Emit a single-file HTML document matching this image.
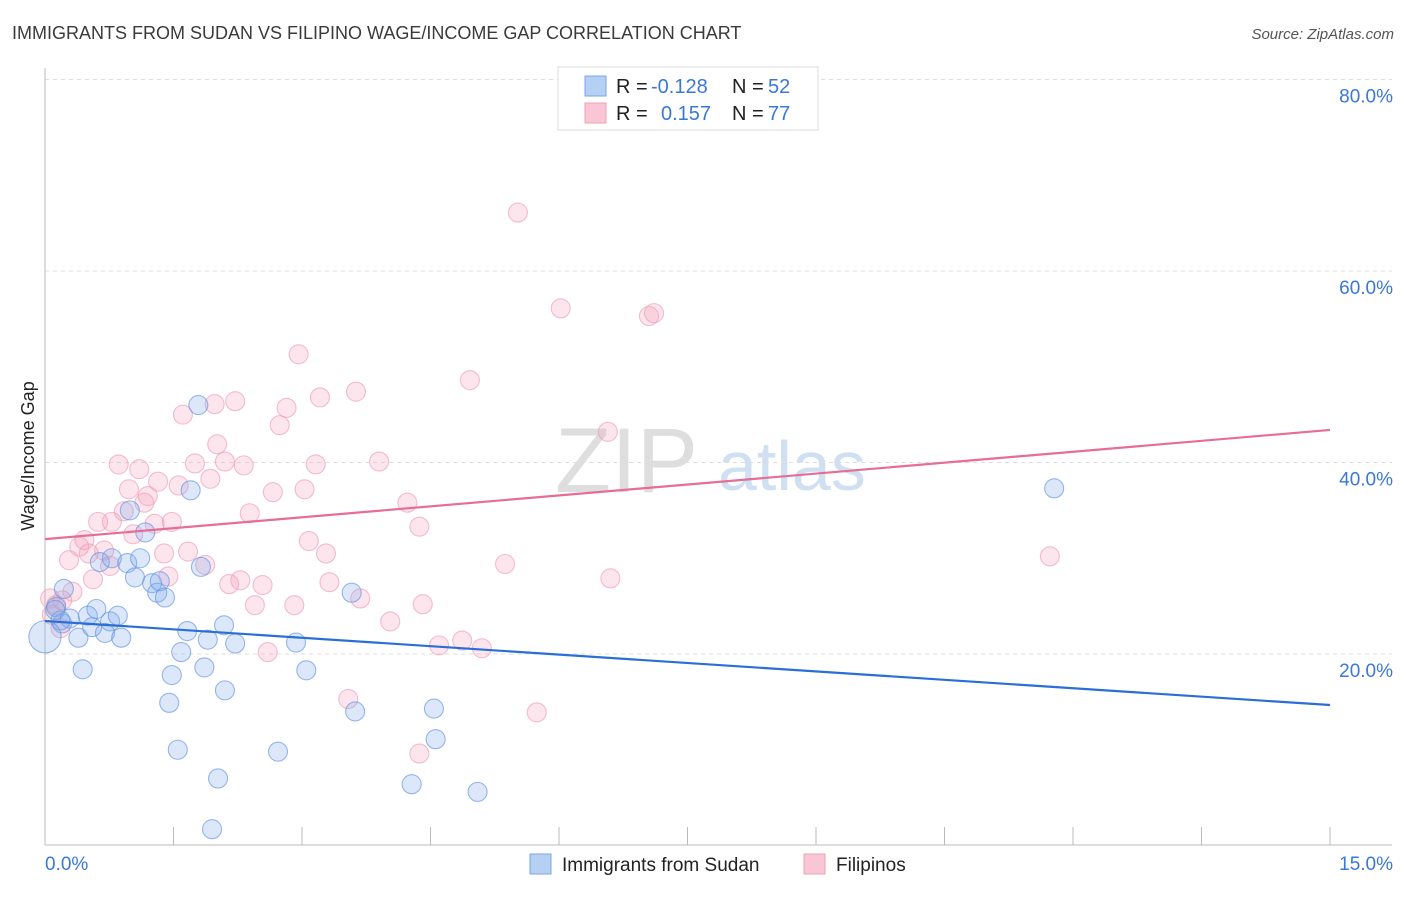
<!DOCTYPE html>
<html><head><meta charset="utf-8"><style>
body{margin:0;background:#fff;font-family:"Liberation Sans",sans-serif;}
svg text{font-family:"Liberation Sans",sans-serif;}
</style></head><body>
<svg id="chart" width="1406" height="892" viewBox="0 0 1406 892" xmlns="http://www.w3.org/2000/svg">
<text x="12" y="39" font-size="18" fill="#3a3a3a">IMMIGRANTS FROM SUDAN VS FILIPINO WAGE/INCOME GAP CORRELATION CHART</text>
<text x="1394" y="39" font-size="15" fill="#555" font-style="italic" text-anchor="end">Source: ZipAtlas.com</text>
<g>
<text x="555" y="492" font-size="92" fill="#dedede" font-family="Liberation Serif, serif">ZIP</text>
<text x="718" y="490" font-size="70" fill="#d0e0f3">atlas</text>
</g>
<g id="grid"></g>
<g id="axes"></g>
<g id="pts"></g>
<g id="trends"></g>
<text transform="translate(34,456) rotate(-90)" font-size="18" fill="#222" text-anchor="middle">Wage/Income Gap</text>
<g>
<rect x="558" y="67" width="260" height="63" fill="#fff" stroke="#ddd"/>
<rect x="585" y="76" width="21" height="20" fill="#b6d0f4" stroke="#7aa6e6"/>
<rect x="585" y="103" width="21" height="20" fill="#f9c6d6" stroke="#f0a0b8"/>
<text x="616" y="93" font-size="20" fill="#222">R =</text>
<text x="651" y="93" font-size="20" fill="#3a78d8">-0.128</text>
<text x="732" y="93" font-size="20" fill="#222">N =</text>
<text x="768" y="93" font-size="20" fill="#3a78d8">52</text>
<text x="616" y="120" font-size="20" fill="#222">R =</text>
<text x="661" y="120" font-size="20" fill="#3a78d8">0.157</text>
<text x="732" y="120" font-size="20" fill="#222">N =</text>
<text x="768" y="120" font-size="20" fill="#3a78d8">77</text>
</g>
<g>
<rect x="530" y="854" width="21" height="20" fill="#b6d0f4" stroke="#7aa6e6"/>
<text x="562" y="871" font-size="19" fill="#222">Immigrants from Sudan</text>
<rect x="804" y="854" width="21" height="20" fill="#f9c6d6" stroke="#f0a0b8"/>
<text x="836" y="871" font-size="19" fill="#222">Filipinos</text>
</g>
</svg>
<script>
const yTicks=[20,40,60,80];
const yTickLabels=["20.0%","40.0%","60.0%","80.0%"];
const xTickLabels=["0.0%","15.0%"];
const sudanX=[0.22,0.13,0.20,0.29,0.39,0.50,0.60,0.55,0.44,0.70,0.76,0.85,0.89,0.64,0.78,0.96,1.05,1.11,1.17,0.99,1.25,1.31,1.34,1.40,1.79,1.70,1.82,1.66,1.59,1.48,1.45,1.55,1.86,1.90,2.09,2.10,2.22,2.02,1.95,2.72,2.93,3.05,3.58,3.62,4.54,4.56,4.28,5.05,11.78,0.12,0.18,0.0];
const sudanY=[26.8,24.9,23.2,23.7,21.7,24.0,24.7,22.8,18.4,22.2,23.4,24.0,21.7,29.6,30.0,29.5,28.0,30.0,32.7,35.0,27.4,26.4,27.6,25.9,46.0,37.1,29.1,22.4,20.2,17.8,14.9,10.0,18.6,21.5,23.0,16.2,21.1,7.0,1.7,9.8,21.2,18.3,26.4,14.0,14.3,11.1,6.4,5.6,37.3,24.6,23.5,21.8];
const sudanSize=[1,1,1,1,1,1,1,1,1,1,1,1,1,1,1,1,1,1,1,1,1,1,1,1,1,1,1,1,1,1,1,1,1,1,1,1,1,1,1,1,1,1,1,1,1,1,1,1,1,1,1,1.7];
const filX=[5.52,6.02,7.05,7.11,2.96,4.96,3.63,3.21,2.22,1.98,1.61,2.82,2.74,6.57,2.01,0.86,1.10,1.75,2.10,2.32,3.16,3.90,0.98,1.32,1.56,1.93,1.20,1.16,0.92,0.62,0.78,1.28,1.48,1.03,2.39,2.66,3.03,4.23,4.37,0.46,0.40,0.69,0.51,0.28,0.76,1.39,1.67,1.87,3.08,3.28,5.37,11.73,0.56,1.44,2.28,2.15,2.54,3.32,3.68,6.60,0.32,0.06,0.20,0.08,0.13,0.18,2.45,2.91,4.41,4.03,2.60,4.60,4.87,5.10,3.54,5.74,4.37];
const filY=[66.1,56.1,55.3,55.6,51.3,48.6,47.4,46.8,46.4,46.1,45.0,45.7,43.9,43.2,41.9,39.8,39.3,39.9,40.1,39.7,39.8,40.1,37.2,38.0,37.6,38.3,36.5,35.8,34.9,33.8,33.8,33.6,33.8,32.5,34.7,36.9,37.2,35.8,33.3,31.9,31.2,30.8,30.5,29.8,29.2,30.5,30.7,29.3,31.8,30.5,29.4,30.2,27.8,28.1,27.7,27.3,27.2,27.5,25.8,27.9,26.5,25.8,25.6,24.1,25.1,22.7,25.1,25.1,25.2,23.4,20.2,20.9,21.4,20.6,15.3,13.9,9.6];
const sudanTrend=[23.45,14.67];
const filTrend=[32.0,43.4];
const xMin=0,xMax=15;
const NS="http://www.w3.org/2000/svg";
const X=v=>45+(v-xMin)/(xMax-xMin)*1285;
const Y=v=>845.5-v*9.575;
function mk(tag,attrs,parent){const e=document.createElementNS(NS,tag);for(const k in attrs)e.setAttribute(k,attrs[k]);parent.appendChild(e);return e;}
const grid=document.getElementById('grid'),axes=document.getElementById('axes'),pts=document.getElementById('pts'),tr=document.getElementById('trends');
yTicks.forEach((t,i)=>{
 const l=mk('line',{x1:45,x2:1392,y1:Y(t),y2:Y(t),stroke:'#ddd','stroke-dasharray':'4,4'},grid);
 
 
 const tx=mk('text',{x:1393,y:Y(t)+23,'font-size':19,fill:'#3a78d8','text-anchor':'end'},grid);
 tx.textContent=yTickLabels[i];
 
 
});
mk('line',{x1:45,x2:45,y1:68,y2:845,stroke:'#bbb'},axes);
mk('line',{x1:45,x2:1392,y1:845,y2:845,stroke:'#bbb'},axes);
for(let i=1;i<=10;i++){const v=xMin+i*(xMax-xMin)/10;const t=mk('line',{x1:X(v),x2:X(v),y1:827,y2:845,stroke:'#bbb'},axes);
 
 }
const xl0=mk('text',{x:45,y:870,'font-size':19,fill:'#3a78d8'},axes);xl0.textContent=xTickLabels[0];


const xl1=mk('text',{x:1393,y:870,'font-size':19,fill:'#3a78d8','text-anchor':'end'},axes);xl1.textContent=xTickLabels[1];


filX.forEach((x,i)=>{const c=mk('circle',{cx:X(x),cy:Y(filY[i]),r:9.5,fill:'rgba(244,160,186,0.28)',stroke:'rgba(236,150,178,0.6)','stroke-width':1.1},pts);
 
 });
sudanX.forEach((x,i)=>{const c=mk('circle',{cx:X(x),cy:Y(sudanY[i]),r:9.5*sudanSize[i],fill:'rgba(130,172,236,0.28)',stroke:'rgba(100,148,222,0.65)','stroke-width':1.1},pts);
 
 });
const l1=mk('line',{x1:X(xMin),x2:X(xMax),y1:Y(filTrend[0]),y2:Y(filTrend[1]),stroke:'#e66d96','stroke-width':2.2},tr);


const l2=mk('line',{x1:X(xMin),x2:X(xMax),y1:Y(sudanTrend[0]),y2:Y(sudanTrend[1]),stroke:'#2a6fd6','stroke-width':2.2},tr);


</script>
</body></html>
